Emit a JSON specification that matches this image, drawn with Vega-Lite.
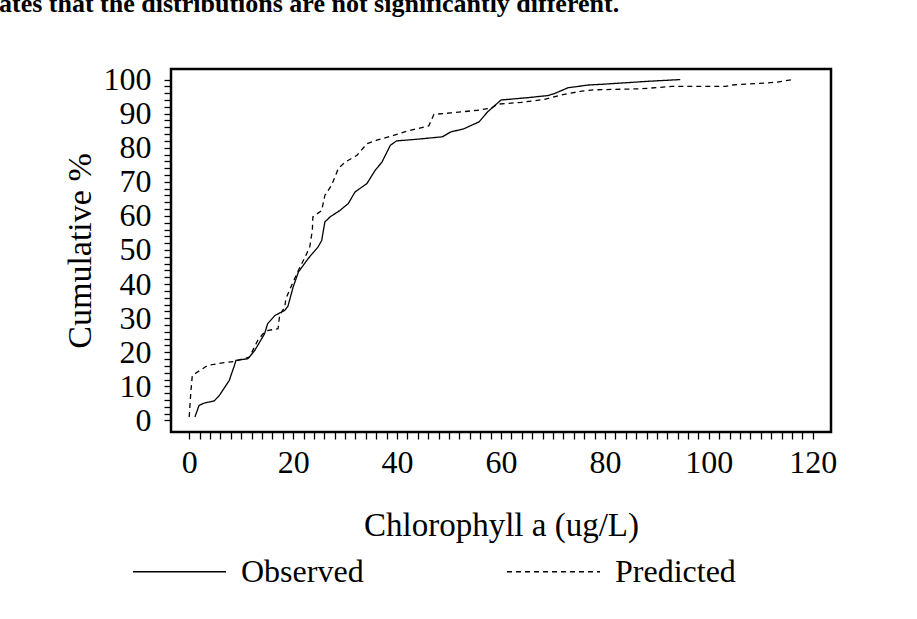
{
  "$schema": "https://vega.github.io/schema/vega-lite/v6.json",
  "autosize": {"type": "none"},
  "width": 660,
  "height": 363,
  "padding": {"left": 171, "top": 69, "right": 86, "bottom": 187},
  "background": "white",
  "title": {
    "text": "ates that the distributions are not significantly different.",
    "font": "Liberation Serif",
    "fontSize": 26,
    "fontWeight": "bold",
    "color": "black",
    "anchor": "start",
    "frame": "group",
    "baseline": "alphabetic",
    "offset": 0,
    "dx": -172,
    "dy": -26
  },
  "data": {
    "values": [
      {"series": "Observed", "order": 1, "chl": 1.1, "cum": 1.0},
      {"series": "Observed", "order": 2, "chl": 1.9, "cum": 4.4},
      {"series": "Observed", "order": 3, "chl": 2.9, "cum": 5.1},
      {"series": "Observed", "order": 4, "chl": 4.8, "cum": 5.7},
      {"series": "Observed", "order": 5, "chl": 5.8, "cum": 7.3},
      {"series": "Observed", "order": 6, "chl": 7.7, "cum": 11.7},
      {"series": "Observed", "order": 7, "chl": 8.7, "cum": 16.1},
      {"series": "Observed", "order": 8, "chl": 9.0, "cum": 17.6},
      {"series": "Observed", "order": 9, "chl": 11.3, "cum": 18.1},
      {"series": "Observed", "order": 10, "chl": 12.6, "cum": 20.5},
      {"series": "Observed", "order": 11, "chl": 14.5, "cum": 25.4},
      {"series": "Observed", "order": 12, "chl": 15.1, "cum": 28.4},
      {"series": "Observed", "order": 13, "chl": 16.5, "cum": 30.8},
      {"series": "Observed", "order": 14, "chl": 18.4, "cum": 32.3},
      {"series": "Observed", "order": 15, "chl": 19.0, "cum": 33.5},
      {"series": "Observed", "order": 16, "chl": 20.0, "cum": 39.1},
      {"series": "Observed", "order": 17, "chl": 21.0, "cum": 43.5},
      {"series": "Observed", "order": 18, "chl": 22.9, "cum": 47.5},
      {"series": "Observed", "order": 19, "chl": 24.8, "cum": 50.9},
      {"series": "Observed", "order": 20, "chl": 25.5, "cum": 52.8},
      {"series": "Observed", "order": 21, "chl": 26.1, "cum": 58.2},
      {"series": "Observed", "order": 22, "chl": 27.1, "cum": 59.7},
      {"series": "Observed", "order": 23, "chl": 29.0, "cum": 61.6},
      {"series": "Observed", "order": 24, "chl": 30.6, "cum": 63.6},
      {"series": "Observed", "order": 25, "chl": 31.9, "cum": 67.0},
      {"series": "Observed", "order": 26, "chl": 34.2, "cum": 69.5},
      {"series": "Observed", "order": 27, "chl": 35.8, "cum": 73.4},
      {"series": "Observed", "order": 28, "chl": 37.1, "cum": 75.8},
      {"series": "Observed", "order": 29, "chl": 38.7, "cum": 80.7},
      {"series": "Observed", "order": 30, "chl": 39.9, "cum": 82.0},
      {"series": "Observed", "order": 31, "chl": 43.9, "cum": 82.5},
      {"series": "Observed", "order": 32, "chl": 48.7, "cum": 83.2},
      {"series": "Observed", "order": 33, "chl": 50.3, "cum": 84.6},
      {"series": "Observed", "order": 34, "chl": 52.9, "cum": 85.6},
      {"series": "Observed", "order": 35, "chl": 55.8, "cum": 87.6},
      {"series": "Observed", "order": 36, "chl": 57.4, "cum": 90.5},
      {"series": "Observed", "order": 37, "chl": 60.0, "cum": 94.0},
      {"series": "Observed", "order": 38, "chl": 65.2, "cum": 94.7},
      {"series": "Observed", "order": 39, "chl": 69.0, "cum": 95.3},
      {"series": "Observed", "order": 40, "chl": 70.3, "cum": 95.9},
      {"series": "Observed", "order": 41, "chl": 72.9, "cum": 97.6},
      {"series": "Observed", "order": 42, "chl": 76.8, "cum": 98.4},
      {"series": "Observed", "order": 43, "chl": 79.3, "cum": 98.6},
      {"series": "Observed", "order": 44, "chl": 88.4, "cum": 99.5},
      {"series": "Observed", "order": 45, "chl": 94.5, "cum": 100.0},
      {"series": "Predicted", "order": 1, "chl": 0.0, "cum": 1.0},
      {"series": "Predicted", "order": 2, "chl": 0.3, "cum": 8.0},
      {"series": "Predicted", "order": 3, "chl": 0.6, "cum": 13.2},
      {"series": "Predicted", "order": 4, "chl": 1.6, "cum": 14.2},
      {"series": "Predicted", "order": 5, "chl": 3.5, "cum": 16.1},
      {"series": "Predicted", "order": 6, "chl": 6.1, "cum": 16.8},
      {"series": "Predicted", "order": 7, "chl": 8.7, "cum": 17.3},
      {"series": "Predicted", "order": 8, "chl": 11.6, "cum": 18.6},
      {"series": "Predicted", "order": 9, "chl": 13.2, "cum": 23.5},
      {"series": "Predicted", "order": 10, "chl": 14.2, "cum": 25.4},
      {"series": "Predicted", "order": 11, "chl": 15.2, "cum": 26.4},
      {"series": "Predicted", "order": 12, "chl": 17.1, "cum": 26.9},
      {"series": "Predicted", "order": 13, "chl": 17.4, "cum": 30.8},
      {"series": "Predicted", "order": 14, "chl": 18.4, "cum": 33.3},
      {"series": "Predicted", "order": 15, "chl": 18.6, "cum": 35.7},
      {"series": "Predicted", "order": 16, "chl": 19.7, "cum": 39.6},
      {"series": "Predicted", "order": 17, "chl": 21.0, "cum": 44.0},
      {"series": "Predicted", "order": 18, "chl": 22.3, "cum": 47.9},
      {"series": "Predicted", "order": 19, "chl": 23.2, "cum": 50.9},
      {"series": "Predicted", "order": 20, "chl": 23.7, "cum": 55.8},
      {"series": "Predicted", "order": 21, "chl": 23.8, "cum": 59.7},
      {"series": "Predicted", "order": 22, "chl": 25.5, "cum": 61.6},
      {"series": "Predicted", "order": 23, "chl": 26.1, "cum": 66.0},
      {"series": "Predicted", "order": 24, "chl": 27.4, "cum": 69.0},
      {"series": "Predicted", "order": 25, "chl": 28.7, "cum": 73.9},
      {"series": "Predicted", "order": 26, "chl": 30.0, "cum": 75.8},
      {"series": "Predicted", "order": 27, "chl": 32.3, "cum": 77.8},
      {"series": "Predicted", "order": 28, "chl": 34.2, "cum": 81.2},
      {"series": "Predicted", "order": 29, "chl": 36.1, "cum": 82.2},
      {"series": "Predicted", "order": 30, "chl": 39.3, "cum": 83.6},
      {"series": "Predicted", "order": 31, "chl": 41.3, "cum": 84.6},
      {"series": "Predicted", "order": 32, "chl": 43.9, "cum": 85.6},
      {"series": "Predicted", "order": 33, "chl": 46.1, "cum": 86.4},
      {"series": "Predicted", "order": 34, "chl": 47.1, "cum": 89.8},
      {"series": "Predicted", "order": 35, "chl": 50.3, "cum": 90.2},
      {"series": "Predicted", "order": 36, "chl": 55.5, "cum": 91.0},
      {"series": "Predicted", "order": 37, "chl": 58.1, "cum": 91.6},
      {"series": "Predicted", "order": 38, "chl": 59.4, "cum": 92.8},
      {"series": "Predicted", "order": 39, "chl": 63.9, "cum": 93.3},
      {"series": "Predicted", "order": 40, "chl": 68.4, "cum": 94.2},
      {"series": "Predicted", "order": 41, "chl": 71.6, "cum": 95.5},
      {"series": "Predicted", "order": 42, "chl": 75.5, "cum": 96.6},
      {"series": "Predicted", "order": 43, "chl": 78.0, "cum": 97.0},
      {"series": "Predicted", "order": 44, "chl": 87.1, "cum": 97.3},
      {"series": "Predicted", "order": 45, "chl": 92.9, "cum": 98.0},
      {"series": "Predicted", "order": 46, "chl": 103.2, "cum": 98.0},
      {"series": "Predicted", "order": 47, "chl": 104.5, "cum": 98.4},
      {"series": "Predicted", "order": 48, "chl": 112.9, "cum": 99.2},
      {"series": "Predicted", "order": 49, "chl": 116.1, "cum": 100.0}
    ]
  },
  "mark": {"type": "line", "color": "black", "strokeWidth": 1.3},
  "encoding": {
    "x": {
      "field": "chl",
      "type": "quantitative",
      "scale": {"domain": [-3.5, 123.5], "nice": false, "zero": false},
      "axis": {
        "title": "Chlorophyll a (ug/L)",
        "values": [0,2,4,6,8,10,12,14,16,18,20,22,24,26,28,30,32,34,36,38,40,42,44,46,48,50,52,54,56,58,60,62,64,66,68,70,72,74,76,78,80,82,84,86,88,90,92,94,96,98,100,102,104,106,108,110,112,114,116,118,120],
        "labelExpr": "datum.value % 20 === 0 ? datum.label : ''",
        "labelOverlap": false,
        "grid": false,
        "domain": false,
        "tickColor": "black",
        "tickWidth": 1.3,
        "tickSize": 7,
        "labelFont": "Liberation Serif",
        "labelFontSize": 32,
        "labelColor": "black",
        "labelPadding": 8,
        "titleFont": "Liberation Serif",
        "titleFontSize": 33,
        "titleFontWeight": "normal",
        "titleColor": "black",
        "titlePadding": 31
      }
    },
    "y": {
      "field": "cum",
      "type": "quantitative",
      "scale": {"domain": [-3.4, 103.1], "nice": false, "zero": false},
      "axis": {
        "title": "Cumulative %",
        "values": [0,2,4,6,8,10,12,14,16,18,20,22,24,26,28,30,32,34,36,38,40,42,44,46,48,50,52,54,56,58,60,62,64,66,68,70,72,74,76,78,80,82,84,86,88,90,92,94,96,98,100],
        "labelExpr": "datum.value % 10 === 0 ? datum.label : ''",
        "labelOverlap": false,
        "grid": false,
        "domain": false,
        "tickColor": "black",
        "tickWidth": 1.3,
        "tickSize": 7,
        "labelFont": "Liberation Serif",
        "labelFontSize": 32,
        "labelColor": "black",
        "labelPadding": 13,
        "titleFont": "Liberation Serif",
        "titleFontSize": 34,
        "titleFontWeight": "normal",
        "titleColor": "black",
        "titlePadding": 6
      }
    },
    "order": {"field": "order", "type": "quantitative"},
    "strokeDash": {
      "field": "series",
      "type": "nominal",
      "scale": {"domain": ["Observed", "Predicted"], "range": [[1, 0], [5, 4]]},
      "legend": {
        "title": null,
        "orient": "none",
        "direction": "horizontal",
        "legendX": -39,
        "legendY": 455,
        "symbolType": "stroke",
        "symbolSize": 8649,
        "symbolStrokeColor": "black",
        "symbolStrokeWidth": 1.3,
        "labelFont": "Liberation Serif",
        "labelFontSize": 32,
        "labelColor": "black",
        "labelOffset": 14,
        "columnPadding": 140
      }
    }
  },
  "config": {
    "view": {"stroke": "black", "strokeWidth": 2.5}
  }
}
